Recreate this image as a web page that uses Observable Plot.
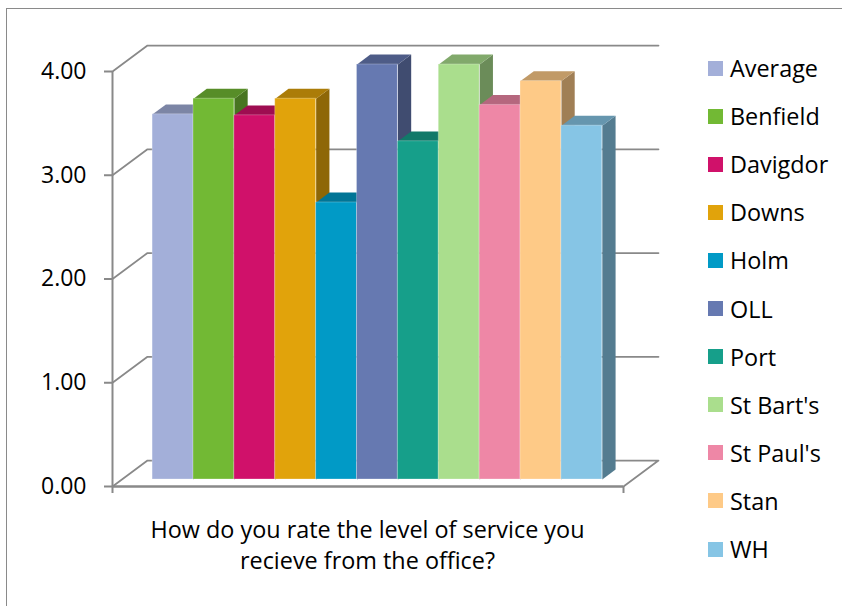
<!DOCTYPE html>
<html>
<head>
<meta charset="utf-8">
<script src="https://cdn.jsdelivr.net/npm/d3@7"></script>
<script src="https://cdn.jsdelivr.net/npm/@observablehq/plot@0.6"></script>
<style>
  html, body { margin: 0; padding: 0; background: #fff; width: 842px; height: 606px; overflow: hidden; }
  body { position: relative; font-family: "Open Sans", sans-serif; }
  #frame { position: absolute; left: 6px; top: 8px; width: 900px; height: 700px; border: 1.5px solid #8a8a8a; box-sizing: border-box; }
  #chart { position: absolute; left: 0; top: 0; }
  #title { position: absolute; left: 60px; width: 615px; top: 514px; text-align: center; font-size: 23.4px; line-height: 31px; color: #000; }
  #legend { position: absolute; left: 708px; top: 0; }
  .item { position: absolute; left: 0; height: 30px; display: flex; align-items: center; white-space: nowrap; font-size: 23.4px; color: #000; }
  .sw { width: 15px; height: 15px; margin-right: 7px; flex: none; }
</style>
</head>
<body>
<div id="frame"></div>
<div id="chart"></div>
<div id="title"></div>
<div id="legend"></div>
<script>
// ---- data ----
const categories = ["Average", "Benfield", "Davigdor", "Downs", "Holm", "OLL", "Port", "St Bart's", "St Paul's", "Stan", "WH"];
const values = [3.52, 3.67, 3.51, 3.67, 2.67, 4.00, 3.26, 4.00, 3.61, 3.84, 3.41];
const colors = ["#A3AFD9", "#72B934", "#D0116A", "#E1A30B", "#019AC6", "#6679B1", "#169F8A", "#AADE8D", "#EE87A6", "#FECA87", "#86C5E5"];
const yTicks = [0, 1, 2, 3, 4];
const axisTitle = ["How do you rate the level of service you", "recieve from the office?"];

// ---- 3D geometry (in data units) ----
const xDomain = [-0.75, categories.length + 0.75];
const yDomain = [0, 4];
const depth = {dx: 0.856, dy: 0.2506};
const f1 = 0.27, f2 = 0.65;
const a = {dx: f1 * depth.dx, dy: f1 * depth.dy};
const b = {dx: f2 * depth.dx, dy: f2 * depth.dy};

const shade = (c, k) => { const r = d3.rgb(c); return d3.rgb(r.r * k, r.g * k, r.b * k).formatHex(); };

const bars = categories.map((name, i) => ({name, i, v: values[i], color: colors[i]}));

const grid = yTicks.flatMap(v => {
  const pts = [
    {v, x: xDomain[0], y: v},
    {v, x: xDomain[0] + depth.dx, y: v + depth.dy},
    {v, x: xDomain[1] + depth.dx, y: v + depth.dy}
  ];
  if (v === 0) pts.push({v, x: xDomain[1], y: 0});
  return pts;
});

const sides = bars.flatMap(d => [
  {id: d.i, fill: shade(d.color, 0.63), x: d.i + 1 + a.dx, y: a.dy},
  {id: d.i, fill: shade(d.color, 0.63), x: d.i + 1 + b.dx, y: b.dy},
  {id: d.i, fill: shade(d.color, 0.63), x: d.i + 1 + b.dx, y: d.v + b.dy},
  {id: d.i, fill: shade(d.color, 0.63), x: d.i + 1 + a.dx, y: d.v + a.dy}
]);
const tops = bars.flatMap(d => [
  {id: d.i, fill: shade(d.color, 0.76), x: d.i + a.dx, y: d.v + a.dy},
  {id: d.i, fill: shade(d.color, 0.76), x: d.i + 1 + a.dx, y: d.v + a.dy},
  {id: d.i, fill: shade(d.color, 0.76), x: d.i + 1 + b.dx, y: d.v + b.dy},
  {id: d.i, fill: shade(d.color, 0.76), x: d.i + b.dx, y: d.v + b.dy}
]);

const gray = "#898989";

const plot = Plot.plot({
  width: 842,
  height: 606,
  marginLeft: 112,
  marginRight: 219,
  marginTop: 71,
  marginBottom: 120,
  x: {domain: xDomain, label: null},
  y: {domain: yDomain, label: null},
  color: {type: "identity"},
  style: {fontFamily: "Open Sans", fontSize: "23px", background: "transparent", overflow: "visible", color: "#000"},
  marks: [
    Plot.line(grid, {x: "x", y: "y", z: "v", stroke: gray, strokeWidth: 1.75}),
    Plot.ruleX([xDomain[0]], {stroke: gray, strokeWidth: 2}),
    Plot.ruleY([0], {stroke: gray, strokeWidth: 2.5}),
    Plot.axisY({ticks: yTicks, tickSize: 8, tickPadding: 18, tickFormat: d3.format(".2f"), stroke: gray, strokeWidth: 2, fill: "#000", fontSize: 23, label: null}),
    Plot.axisX({ticks: xDomain, tickSize: 7, tickFormat: () => "", stroke: gray, strokeWidth: 2, label: null}),
    Plot.line(sides, {x: "x", y: "y", z: "id", fill: "fill", stroke: null, curve: "linear-closed"}),
    Plot.line(tops, {x: "x", y: "y", z: "id", fill: "fill", stroke: null, curve: "linear-closed"}),
    Plot.rect(bars, {x1: d => d.i + a.dx, x2: d => d.i + 1 + a.dx, y1: a.dy, y2: d => d.v + a.dy, fill: "color", stroke: "#fff", strokeOpacity: 0.25, strokeWidth: 1})
  ]
});
document.getElementById("chart").appendChild(plot);

// axis title
document.getElementById("title").innerHTML = axisTitle.map(s => `<div>${s}</div>`).join("");

// legend
const legend = document.getElementById("legend");
categories.forEach((name, i) => {
  const item = document.createElement("div");
  item.className = "item";
  item.style.top = (68 + 48.1 * i - 15) + "px";
  item.innerHTML = `<span class="sw" style="background:${colors[i]}"></span><span>${name}</span>`;
  legend.appendChild(item);
});
</script>
</body>
</html>
